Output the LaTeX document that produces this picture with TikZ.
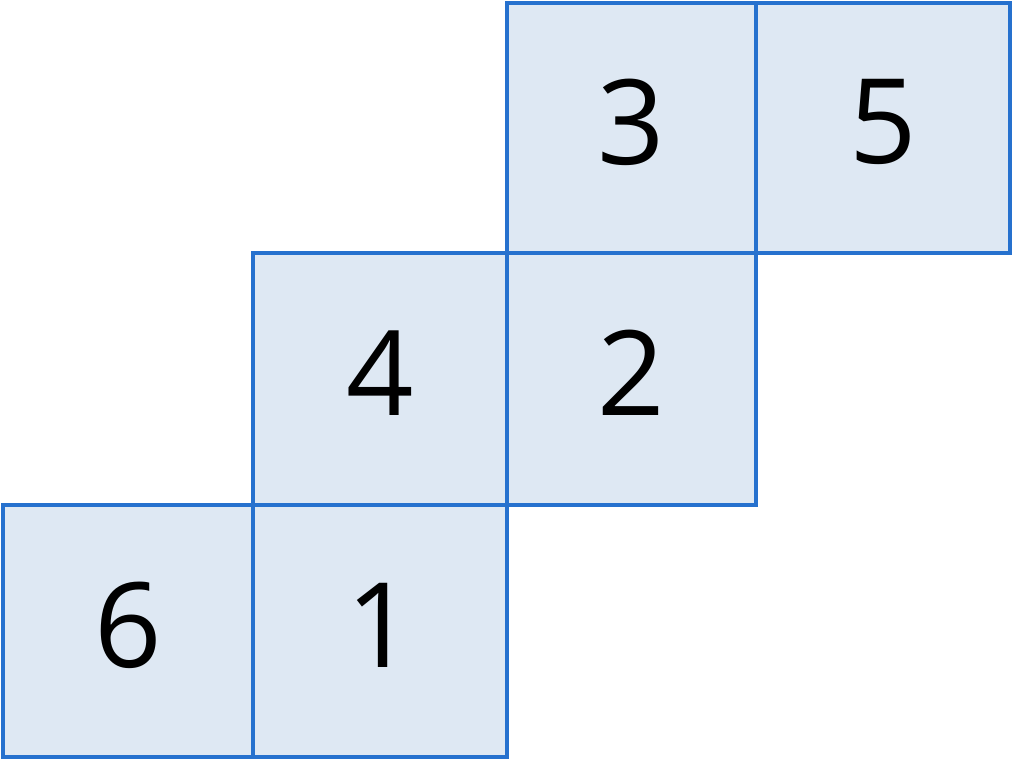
\documentclass[tikz,border=0pt]{standalone}
\usepackage{fontspec}
\usetikzlibrary{fit}
\setmainfont{Open Sans}
\definecolor{edge}{RGB}{38,113,206}
\definecolor{face}{RGB}{222,232,243}
\begin{document}
\begin{tikzpicture}[x=1pt,y=-1pt,
  cell/.style={draw=edge,fill=face,line width=4pt,inner sep=0pt,outer sep=0pt},
  digit/.style={font=\fontsize{118}{120}\selectfont,inner sep=0pt}]
\useasboundingbox (0,0) rectangle (1013,761);
\node[cell,fit={(507,3) (756,253)}] (c3) {};
\node[cell,fit={(756,3) (1010,253)}] (c5) {};
\node[cell,fit={(253,253) (507,505)}] (c4) {};
\node[cell,fit={(507,253) (756,505)}] (c2) {};
\node[cell,fit={(3,505) (253,757)}] (c6) {};
\node[cell,fit={(253,505) (507,757)}] (c1) {};
\foreach \c/\t in {c3/3,c5/5,c4/4,c2/2,c6/6,c1/1}
  \node[digit] (t\c) at ([yshift=6pt]\c.center) {\t};
\end{tikzpicture}
\end{document}
